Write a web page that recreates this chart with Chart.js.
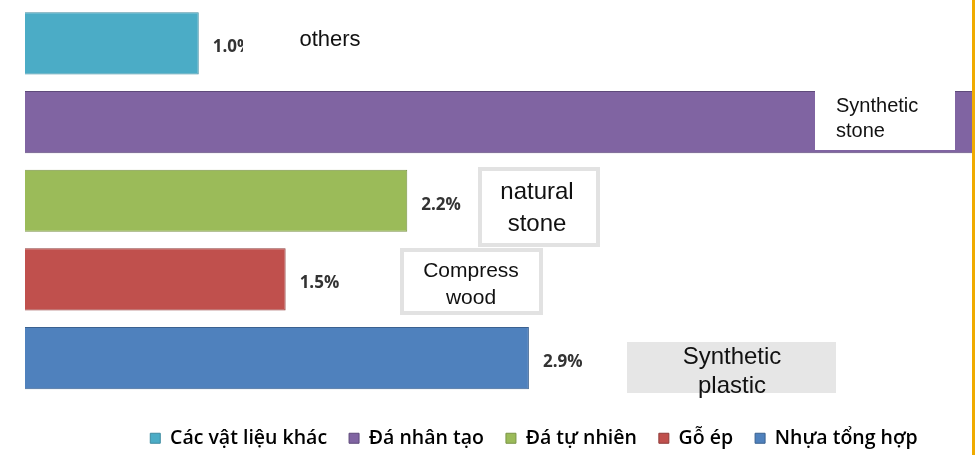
<!DOCTYPE html>
<html>
<head>
<meta charset="utf-8">
<script src="https://cdn.jsdelivr.net/npm/chart.js@4/dist/chart.umd.min.js"></script>
<style>
    html, body { margin: 0; padding: 0; background: #fff; }
    #wrap { width: 975px; height: 455px; position: relative; }
</style>
</head>
<body>
<div id="wrap"><canvas id="chart"></canvas></div>
<script>
// Data

const categories = [""];
const seriesNames = ["Các vật liệu khác", "Đá nhân tạo", "Đá tự nhiên", "Gỗ ép", "Nhựa tổng hợp"];
const seriesValues = [1.0, 5.5, 2.2, 1.5, 2.9];
const seriesColors = ["#4BACC6", "#8064A2", "#9BBB59", "#C0504D", "#4F81BD"];
const seriesBorders = ["#3E8BA0", "#5E4A7A", "#7A9446", "#8E3A38", "#3A6190"];

// English notes pasted over the picture
const notes = [
    { lines: ["others"], x: 243, y: 14, w: 180, h: 54, fill: "#fff", border: null, align: "center", tx: 330, ty: [40], size: 22 },
    { lines: ["Synthetic", "stone"], x: 815, y: 90, w: 140, h: 60, fill: "#fff", border: null, align: "left", tx: 836, ty: [106, 131], size: 20 },
    { lines: ["natural", "stone"], x: 478, y: 167, w: 122, h: 80, fill: "#fff", border: "#e2e2e2", align: "center", tx: 537, ty: [192, 224], size: 24 },
    { lines: ["Compress", "wood"], x: 400, y: 248, w: 143, h: 67, fill: "#fff", border: "#e2e2e2", align: "center", tx: 471, ty: [271, 298], size: 21 },
    { lines: ["Synthetic", "plastic"], x: 627, y: 342, w: 209, h: 51, fill: "#e6e6e6", border: null, align: "center", tx: 732, ty: [357, 386], size: 24 }
];

const datasets = seriesNames.map((name, i) => ({
    label: name,
    data: [seriesValues[i]],
    backgroundColor: seriesColors[i],
    borderColor: seriesBorders[i],
    borderWidth: 1,
    categoryPercentage: 1,
    barPercentage: 0.79,
}));

const valueLabels = {
    id: "valueLabels",
    afterDatasetsDraw(chart) {
        const c = chart.ctx;
        const area = chart.chartArea;
        c.save();
        c.font = "bold 17px 'Open Sans'";
        c.fillStyle = "#333";
        c.textBaseline = "middle";
        chart.data.datasets.forEach((ds, i) => {
            const bar = chart.getDatasetMeta(i).data[0];
            if (bar.x + 20 > area.right) return;
            c.fillText(ds.data[0].toFixed(1) + "%", bar.x + 14, bar.y + 4);
        });
        c.restore();
    }
};

// the legend sits a bit right of the plot centre and a bit lower
const legendShift = {
    id: "legendShift",
    afterLayout(chart) {
        const lg = chart.legend;
        const dx = 534 - (lg.left + lg.right) / 2;
        const dy = 9;
        lg.left += dx; lg.right += dx;
        lg.top += dy; lg.bottom += dy;
    }
};

const overlay = {
    id: "overlay",
    afterDraw(chart) {
        const c = chart.ctx;
        c.save();
        notes.forEach(n => {
            c.fillStyle = n.fill;
            c.fillRect(n.x, n.y, n.w, n.h);
            if (n.border) {
                c.strokeStyle = n.border;
                c.lineWidth = 4;
                c.strokeRect(n.x + 2, n.y + 2, n.w - 4, n.h - 4);
            }
            c.fillStyle = "#111";
            c.font = n.size + "px 'Liberation Sans'";
            c.textBaseline = "middle";
            c.textAlign = n.align;
            n.lines.forEach((t, k) => c.fillText(t, n.tx, n.ty[k]));
        });
        // orange edge line
        c.fillStyle = "#F0AB00";
        c.fillRect(972, 0, 3, chart.height);
        c.restore();
    }
};

const chart = new Chart(document.getElementById("chart"), {
    type: "bar",
    data: {
        labels: categories,
        datasets: datasets,
    },
    options: {
        indexAxis: "y",
        responsive: true,
        maintainAspectRatio: false,
        animation: false,
        layout: {
            padding: { left: 25, right: 3, top: 4, bottom: 6 }
        },
        scales: {
            x: { display: false, min: 0, max: 5.45 },
            y: { display: false }
        },
        plugins: {
            legend: {
                position: "bottom",
                labels: {
                    boxWidth: 10,
                    boxHeight: 10,
                    padding: 22,
                    color: "#2a2a2a",
                    font: { family: "'Open Sans'", size: 19.5, weight: "600" },
                    generateLabels(ch) {
                        return ch.data.datasets.map((ds, i) => ({
                            text: ds.label,
                            fillStyle: ds.backgroundColor,
                            strokeStyle: ds.borderColor,
                            lineWidth: 1,
                            datasetIndex: i,
                        }));
                    }
                }
            },
            tooltip: false,
        },
    },
    plugins: [valueLabels, legendShift, overlay],
});
</script>
</body>
</html>
